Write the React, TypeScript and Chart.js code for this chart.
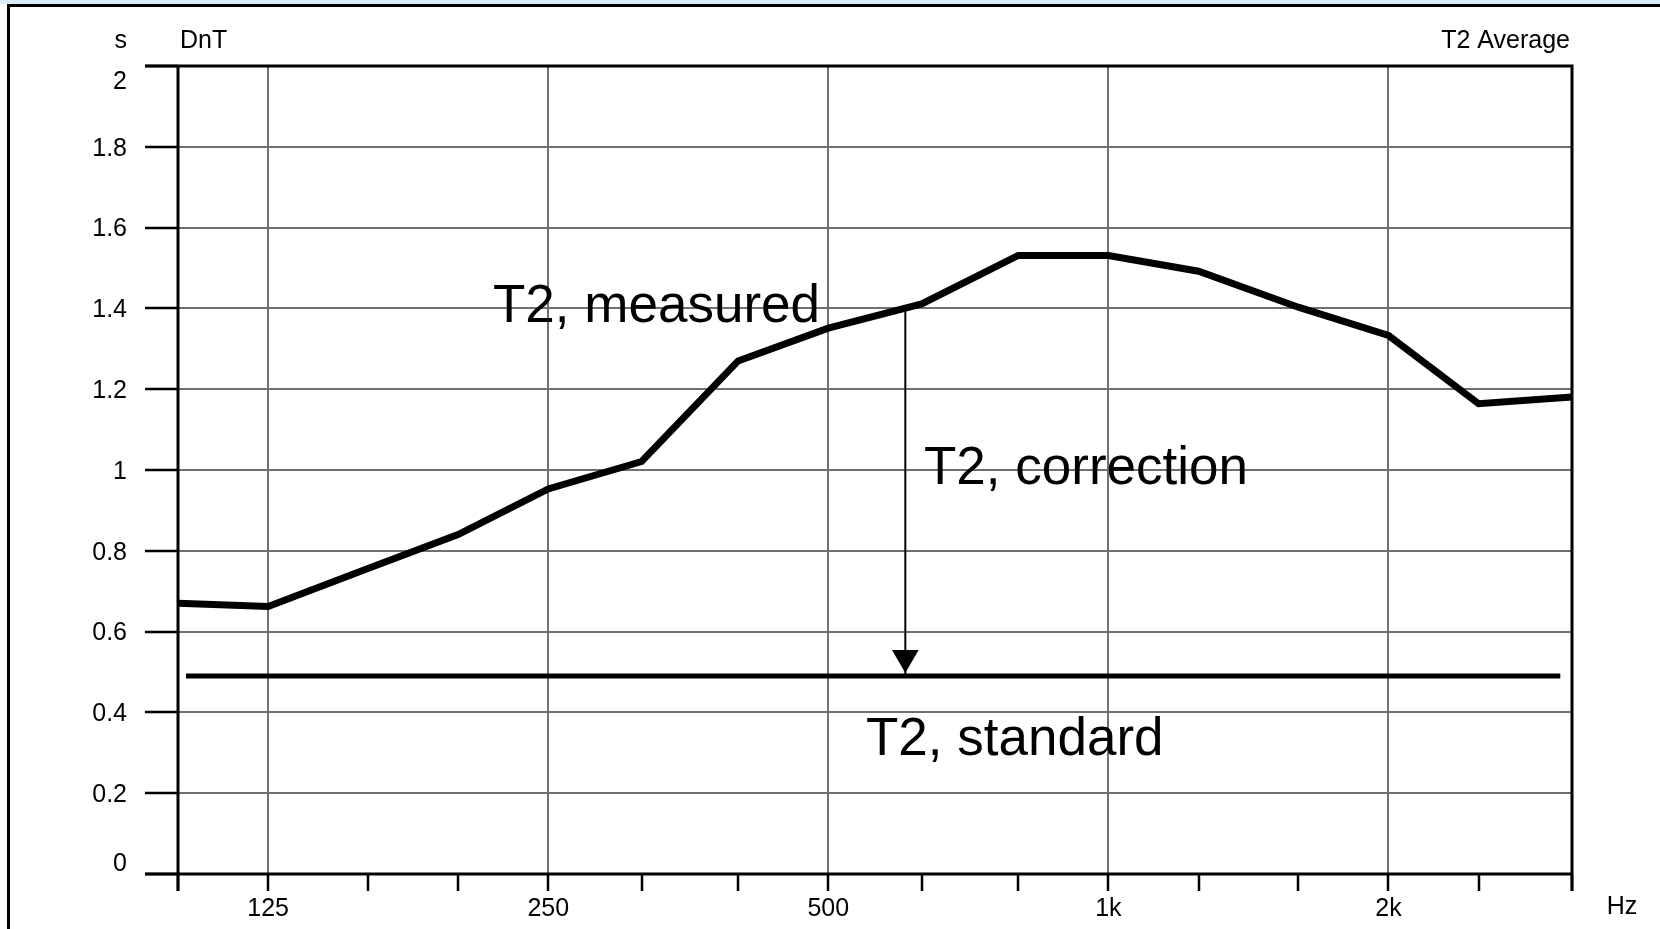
import React, { useEffect, useRef } from "react";
import { Chart, registerables } from "chart.js";

Chart.register(...registerables);

// third-octave band centre frequencies (Hz)
const bandFreqs = [100, 125, 160, 200, 250, 315, 400, 500, 630, 800, 1000, 1250, 1600, 2000, 2500, 3150];
// measured reverberation time T2 (s)
const measuredT2 = [0.67, 0.662, 0.756, 0.84, 0.953, 1.021, 1.27, 1.351, 1.411, 1.531, 1.531, 1.492, 1.403, 1.333, 1.164, 1.181];
// standard reference reverberation time (s)
const standardFreqs = [102, 3060];
const standardT2 = [0.49, 0.49];
// correction arrow
const correctionFreq = 605;
const correctionFrom = 1.404;
const correctionTo = 0.49;
// axis tick labels
const xLabelFreqs = [125, 250, 500, 1000, 2000];
const xLabels = ["125", "250", "500", "1k", "2k"];
const yTickValues = [0, 0.2, 0.4, 0.6, 0.8, 1, 1.2, 1.4, 1.6, 1.8, 2];
const yTickLabels = ["0", "0.2", "0.4", "0.6", "0.8", "1", "1.2", "1.4", "1.6", "1.8", "2"];

const FONT = '"Liberation Sans", Arial, Helvetica, sans-serif';
const GRID = "#707070";

const decor = {
  id: "decor",
  beforeDraw(chart: any) {
    const { ctx, width, height } = chart;
    ctx.save();
    ctx.fillStyle = "#ffffff";
    ctx.fillRect(0, 0, width, height);
    ctx.fillStyle = "#d9ebf7";
    ctx.fillRect(0, 0, width, 4);
    ctx.strokeStyle = "#000";
    ctx.lineWidth = 3;
    ctx.beginPath();
    ctx.moveTo(7, 5.5);
    ctx.lineTo(width, 5.5);
    ctx.moveTo(8.5, 4);
    ctx.lineTo(8.5, height);
    ctx.stroke();
    ctx.restore();
  },
  beforeDatasetsDraw(chart: any) {
    const { ctx, chartArea } = chart;
    const { left, right, top, bottom } = chartArea;
    const xs = chart.scales.x;
    const ys = chart.scales.y;
    ctx.save();
    ctx.strokeStyle = "#000";
    ctx.lineWidth = 3;
    ctx.beginPath();
    ctx.moveTo(145, top);
    ctx.lineTo(right + 1.5, top);
    ctx.moveTo(right, top);
    ctx.lineTo(right, bottom + 17);
    ctx.moveTo(145, bottom);
    ctx.lineTo(right + 1.5, bottom);
    ctx.moveTo(left, top);
    ctx.lineTo(left, bottom + 17);
    ctx.stroke();
    // y tick marks
    ctx.lineWidth = 2.5;
    ctx.beginPath();
    yTickValues.forEach((v) => {
      const y = Math.round(ys.getPixelForValue(v));
      ctx.moveTo(145, y);
      ctx.lineTo(left, y);
    });
    // x tick marks
    bandFreqs.forEach((f) => {
      const x = Math.round(xs.getPixelForValue(f));
      ctx.moveTo(x, bottom);
      ctx.lineTo(x, bottom + 17);
    });
    ctx.stroke();

    ctx.fillStyle = "#000";
    ctx.font = `25px ${FONT}`;
    ctx.textAlign = "right";
    ctx.textBaseline = "middle";
    yTickValues.forEach((v, i) => {
      let y = ys.getPixelForValue(v) + 2;
      if (i === yTickValues.length - 1) y = top + 16;
      if (i === 0) y = bottom - 10;
      ctx.fillText(yTickLabels[i], 127, y);
    });
    ctx.textAlign = "center";
    xLabelFreqs.forEach((f, i) => {
      ctx.fillText(xLabels[i], xs.getPixelForValue(f), 909);
    });
    ctx.fillText("Hz", 1622, 907);

    ctx.textBaseline = "alphabetic";
    ctx.textAlign = "right";
    ctx.fillText("s", 127, 48);
    ctx.fillText("T2 Average", right - 2, 48);
    ctx.textAlign = "left";
    ctx.fillText("DnT", left + 2, 48);
    ctx.restore();
  },
  afterDatasetsDraw(chart: any) {
    const { ctx } = chart;
    const xs = chart.scales.x;
    const ys = chart.scales.y;
    ctx.save();
    const ax = xs.getPixelForValue(correctionFreq);
    const tip = ys.getPixelForValue(correctionTo) - 3;
    ctx.fillStyle = "#000";
    ctx.beginPath();
    ctx.moveTo(ax, tip);
    ctx.lineTo(ax - 13.3, tip - 23);
    ctx.lineTo(ax + 13.3, tip - 23);
    ctx.closePath();
    ctx.fill();

    ctx.font = `53px ${FONT}`;
    ctx.textAlign = "left";
    ctx.textBaseline = "alphabetic";
    ctx.fillText("T2, measured", 493, 322);
    ctx.fillText("T2, correction", 924, 484);
    ctx.fillText("T2, standard", 866, 755);
    ctx.restore();
  },
};

export default function App() {
  const ref = useRef<HTMLCanvasElement | null>(null);
  useEffect(() => {
    if (!ref.current) return;
    const majors = new Set(xLabelFreqs);
    const chart = new Chart(ref.current, {
      type: "line",
      data: {
        datasets: [
          {
            label: "T2, measured",
            data: bandFreqs.map((f, i) => ({ x: f, y: measuredT2[i] })),
            borderColor: "#000",
            borderWidth: 7,
            pointRadius: 0,
            tension: 0,
            borderJoinStyle: "miter",
            fill: false,
          },
          {
            label: "T2, standard",
            data: standardFreqs.map((f, i) => ({ x: f, y: standardT2[i] })),
            borderColor: "#000",
            borderWidth: 5,
            pointRadius: 0,
            borderCapStyle: "butt",
            fill: false,
          },
          {
            label: "T2, correction",
            data: [
              { x: correctionFreq, y: correctionFrom },
              { x: correctionFreq, y: correctionTo },
            ],
            borderColor: "#000",
            borderWidth: 2,
            pointRadius: 0,
            fill: false,
          },
        ],
      },
      options: {
        responsive: false,
        maintainAspectRatio: false,
        devicePixelRatio: 1,
        animation: false,
        layout: { padding: { left: 178, right: 88, top: 66, bottom: 55 } },
        plugins: { legend: { display: false }, tooltip: { enabled: false } },
        scales: {
          x: {
            type: "logarithmic",
            min: 100,
            max: 3150,
            afterBuildTicks: (scale: any) => {
              scale.ticks = bandFreqs.map((v) => ({ value: v }));
            },
            afterFit: (scale: any) => {
              scale.height = 0;
            },
            ticks: { display: false },
            border: { display: false },
            grid: {
              drawTicks: false,
              lineWidth: 2,
              color: (c: any) => (c.tick && majors.has(c.tick.value) ? GRID : "rgba(0,0,0,0)"),
            },
          },
          y: {
            type: "linear",
            min: 0,
            max: 2,
            ticks: { display: false, stepSize: 0.2 },
            afterFit: (scale: any) => {
              scale.width = 0;
            },
            border: { display: false },
            grid: {
              drawTicks: false,
              lineWidth: 2,
              color: (c: any) =>
                c.tick && c.tick.value > 0.01 && c.tick.value < 1.99 ? GRID : "rgba(0,0,0,0)",
            },
          },
        },
      },
      plugins: [decor],
    });
    return () => chart.destroy();
  }, []);

  return (
    <div style={{ position: "fixed", left: 0, top: 0, width: 1660, height: 929, background: "#fff" }}>
      <canvas ref={ref} width={1660} height={929} style={{ display: "block", width: 1660, height: 929 }} />
    </div>
  );
}
